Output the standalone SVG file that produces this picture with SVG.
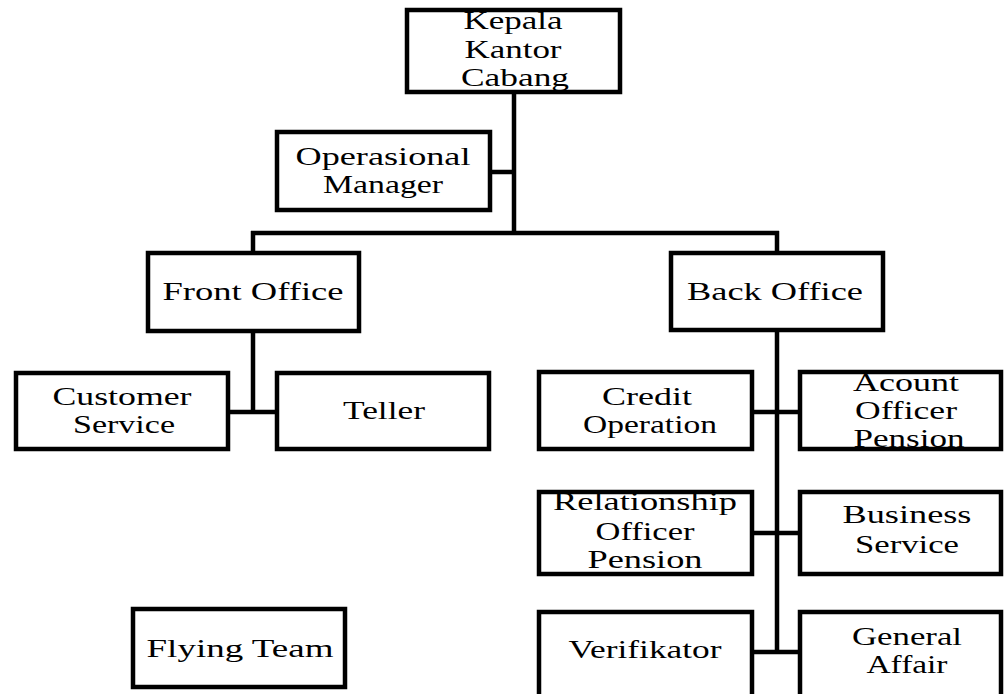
<svg xmlns="http://www.w3.org/2000/svg" width="1006" height="694" viewBox="0 0 1006 694">
<style>
.box{fill:#fff;stroke:#000;stroke-width:4.5}
.t{font-family:"Liberation Serif","Times New Roman",serif;font-size:26px;fill:#000;text-anchor:middle}
.c{fill:none;stroke:#000;stroke-width:4.5}
</style>
<rect width="1006" height="694" fill="#fff"/>
<g id="connectors">
<path class="c" d="M514 92V233M490 172H514M251 233H779M253 231V253M777 231V253"/>
<path class="c" d="M253 331V412M228 412H277"/>
<path class="c" d="M777 330V654M752 412H800M752 533H800M752 652H800"/>
</g>
<g id="kepala"><rect class="box" x="407" y="10" width="213" height="82"/>
<text class="t" x="513" y="29" textLength="99" lengthAdjust="spacingAndGlyphs">Kepala</text>
<text class="t" x="513" y="58" textLength="97" lengthAdjust="spacingAndGlyphs">Kantor</text>
<text class="t" x="515" y="86" textLength="108" lengthAdjust="spacingAndGlyphs">Cabang</text></g>
<g id="operasional"><rect class="box" x="277" y="132" width="213" height="78"/>
<text class="t" x="383" y="165" textLength="175" lengthAdjust="spacingAndGlyphs">Operasional</text>
<text class="t" x="383" y="193" textLength="120" lengthAdjust="spacingAndGlyphs">Manager</text></g>
<g id="front"><rect class="box" x="148" y="253" width="211" height="78"/>
<text class="t" x="253" y="300" textLength="181" lengthAdjust="spacingAndGlyphs">Front  Office</text></g>
<g id="back"><rect class="box" x="671" y="253" width="212" height="77"/>
<text class="t" x="775" y="300" textLength="176" lengthAdjust="spacingAndGlyphs">Back  Office</text></g>
<g id="customer"><rect class="box" x="16" y="373" width="212" height="76"/>
<text class="t" x="122" y="405" textLength="139" lengthAdjust="spacingAndGlyphs">Customer</text>
<text class="t" x="124" y="433" textLength="102" lengthAdjust="spacingAndGlyphs">Service</text></g>
<g id="teller"><rect class="box" x="277" y="373" width="212" height="76"/>
<text class="t" x="384" y="419" textLength="82" lengthAdjust="spacingAndGlyphs">Teller</text></g>
<g id="credit"><rect class="box" x="539" y="372" width="213" height="77"/>
<text class="t" x="647" y="405" textLength="90" lengthAdjust="spacingAndGlyphs">Credit</text>
<text class="t" x="650" y="433" textLength="134" lengthAdjust="spacingAndGlyphs">Operation</text></g>
<g id="acount"><rect class="box" x="800" y="372" width="201" height="77"/>
<text class="t" x="906" y="391" textLength="106" lengthAdjust="spacingAndGlyphs">Acount</text>
<text class="t" x="906" y="419" textLength="102" lengthAdjust="spacingAndGlyphs">Officer</text>
<text class="t" x="909" y="447" textLength="111" lengthAdjust="spacingAndGlyphs">Pension</text></g>
<g id="relationship"><rect class="box" x="539" y="492" width="213" height="82"/>
<text class="t" x="645" y="510" textLength="184" lengthAdjust="spacingAndGlyphs">Relationship</text>
<text class="t" x="645" y="540" textLength="99" lengthAdjust="spacingAndGlyphs">Officer</text>
<text class="t" x="645" y="568" textLength="115" lengthAdjust="spacingAndGlyphs">Pension</text></g>
<g id="business"><rect class="box" x="800" y="492" width="201" height="82"/>
<text class="t" x="907" y="523" textLength="129" lengthAdjust="spacingAndGlyphs">Business</text>
<text class="t" x="907" y="553" textLength="104" lengthAdjust="spacingAndGlyphs">Service</text></g>
<g id="verifikator"><rect class="box" x="539" y="612" width="213" height="92"/>
<text class="t" x="645" y="658" textLength="153" lengthAdjust="spacingAndGlyphs">Verifikator</text></g>
<g id="general"><rect class="box" x="800" y="612" width="201" height="92"/>
<text class="t" x="907" y="645" textLength="110" lengthAdjust="spacingAndGlyphs">General</text>
<text class="t" x="907" y="673" textLength="81" lengthAdjust="spacingAndGlyphs">Affair</text></g>
<g id="flying"><rect class="box" x="133" y="609" width="212" height="78"/>
<text class="t" x="240" y="657" textLength="187" lengthAdjust="spacingAndGlyphs">Flying  Team</text></g>
</svg>
